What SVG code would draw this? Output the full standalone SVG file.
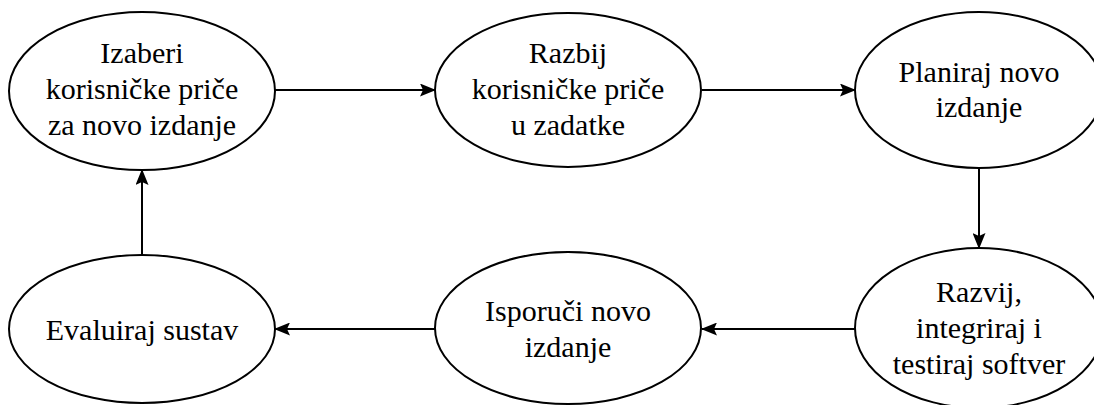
<svg xmlns="http://www.w3.org/2000/svg" width="1094" height="405" viewBox="0 0 1094 405">
<style>
.n{fill:#fff;stroke:#000;stroke-width:2}
.t{font-size:30px;fill:#000;text-anchor:middle}
.c{stroke:#000;stroke-width:2;fill:none;marker-end:url(#ah)}
</style>
<defs>
<marker id="ah" viewBox="0 0 16 13" refX="15" refY="6.5" markerWidth="16" markerHeight="13" markerUnits="userSpaceOnUse" orient="auto">
<path d="M0,0L16,6.5L0,13L3,6.5z" fill="#000"/>
</marker>
</defs>
<rect width="1094" height="405" fill="#fff"/>
<g id="connectors">
<line class="c" x1="275" y1="90" x2="435" y2="90"/>
<line class="c" x1="702" y1="90" x2="855" y2="90"/>
<line class="c" x1="979" y1="168" x2="979" y2="248"/>
<line class="c" x1="855" y1="329" x2="702" y2="329"/>
<line class="c" x1="435" y1="329" x2="275" y2="329"/>
<line class="c" x1="142" y1="255" x2="142" y2="170"/>
</g>
<g font-family="Liberation Serif, Times New Roman, DejaVu Serif, serif">
<g id="n1">
<ellipse class="n" cx="142" cy="91" rx="133" ry="79"/>
<text class="t" x="142" y="63">Izaberi</text>
<text class="t" x="142" y="99">korisničke priče</text>
<text class="t" x="142" y="135">za novo izdanje</text>
</g>
<g id="n2">
<ellipse class="n" cx="568" cy="90" rx="133" ry="77"/>
<text class="t" x="568" y="63">Razbij</text>
<text class="t" x="568" y="99">korisničke priče</text>
<text class="t" x="568" y="135">u zadatke</text>
</g>
<g id="n3">
<ellipse class="n" cx="979" cy="90" rx="124" ry="78"/>
<text class="t" x="979" y="82">Planiraj novo</text>
<text class="t" x="979" y="117">izdanje</text>
</g>
<g id="n4">
<ellipse class="n" cx="979" cy="328" rx="124" ry="80"/>
<text class="t" x="979" y="302">Razvij,</text>
<text class="t" x="979" y="338">integriraj i</text>
<text class="t" x="979" y="374">testiraj softver</text>
</g>
<g id="n5">
<ellipse class="n" cx="568" cy="328" rx="133" ry="76"/>
<text class="t" x="568" y="321">Isporuči novo</text>
<text class="t" x="568" y="357">izdanje</text>
</g>
<g id="n6">
<ellipse class="n" cx="142" cy="329" rx="133" ry="74"/>
<text class="t" x="142" y="340">Evaluiraj sustav</text>
</g>
</g>
</svg>
